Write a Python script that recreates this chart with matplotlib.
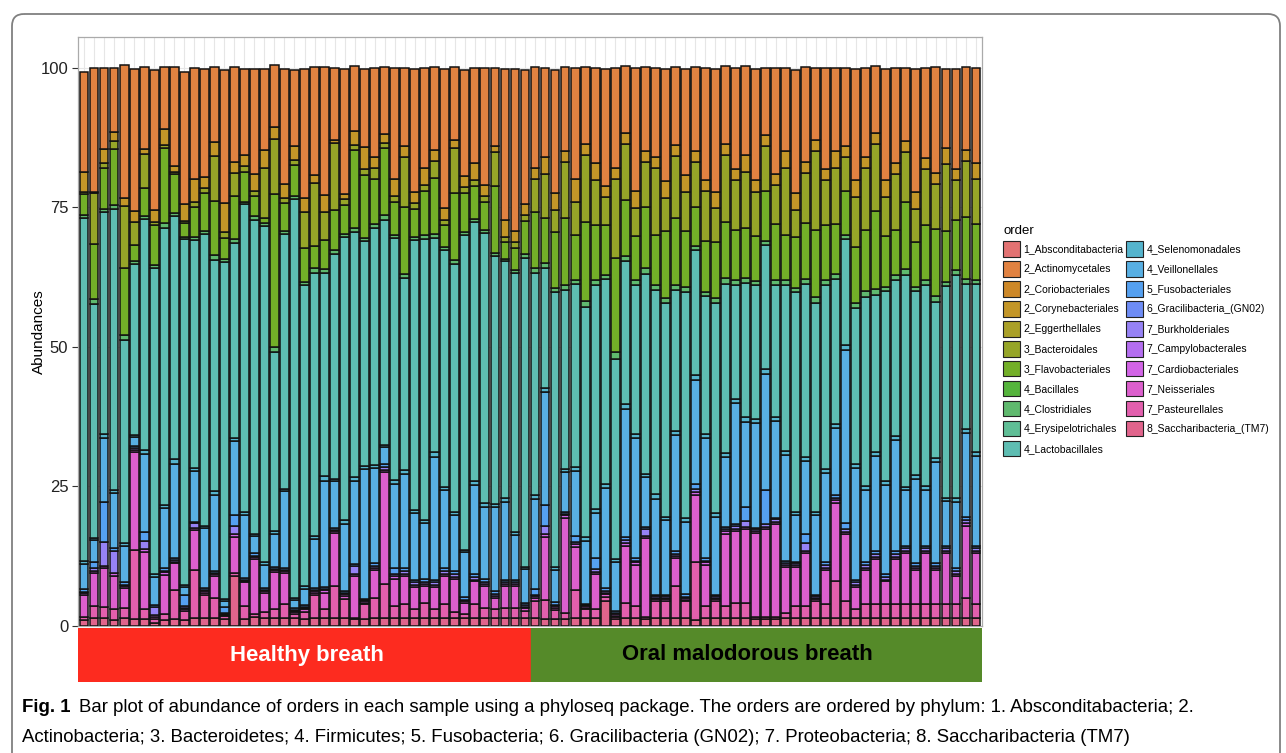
import numpy as np
import matplotlib
matplotlib.use("Agg")
import matplotlib.pyplot as plt
from matplotlib.patches import Patch, FancyBboxPatch

plt.rcParams['font.family'] = ['Liberation Sans', 'DejaVu Sans']

# legend order (ggplot puts the first level on top of each bar)
orders = ['1_Absconditabacteria', '2_Actinomycetales', '2_Coriobacteriales',
          '2_Corynebacteriales', '2_Eggerthellales', '3_Bacteroidales',
          '3_Flavobacteriales', '4_Bacillales', '4_Clostridiales',
          '4_Erysipelotrichales', '4_Lactobacillales', '4_Selenomonadales',
          '4_Veillonellales', '5_Fusobacteriales', '6_Gracilibacteria_(GN02)',
          '7_Burkholderiales', '7_Campylobacterales', '7_Cardiobacteriales',
          '7_Neisseriales', '7_Pasteurellales', '8_Saccharibacteria_(TM7)']

# colours as they appear in the legend keys
order_colors = ['#e27272', '#e18241', '#cd8828', '#c39628', '#aaa028', '#96a528',
                '#73af28', '#55b43c', '#5fb96e', '#5fbe96', '#5ebdb2', '#55b4cd',
                '#58afe3', '#55a0f0', '#6e8cf5', '#9682f5', '#b46ef0', '#d264e6',
                '#dc5fcd', '#e25fad', '#e1648c']

groups = ['Healthy breath', 'Oral malodorous breath']
n_healthy = 45
n_malodor = 45

# abundances (%) per sample, first 45 healthy then 45 malodorous
actinomycetales = [18, 22.2, 14.5, 11.5, 23.7, 25.4, 14.7, 25, 11.1, 17.7, 23.7, 19.9, 19.3, 13.5, 23.7, 17, 15.3, 18.8, 14.5, 11.1, 20.5, 13.5, 23, 19.3, 23, 12.9, 22.4, 11.6, 13.9, 16, 12, 20, 14, 22, 18, 15, 25, 13, 19, 17, 21, 14, 27, 29, 24,
                   18, 16, 22, 15, 20, 13.8, 17, 21, 18, 12, 22, 15, 16, 20, 14, 19, 15, 20, 22, 14, 18, 16, 20, 12, 19, 15, 22, 17, 13, 18, 15, 14, 20, 16, 12, 20, 17, 13, 22, 16, 19, 14, 18, 15, 17]
corynebacteriales = [3.5, 0.3, 2.4, 1.5, 1.5, 2, 1, 2.2, 3, 1, 3, 4, 2, 2.5, 5.3, 2, 2, 3, 3.2, 2, 2.5, 2.5, 2.5, 1.5, 3, 0.5, 1, 2.5, 4, 2, 1.5, 3, 2, 2, 3, 2, 2, 1.5, 2, 3, 2, 1, 3, 2, 2,
                     2, 3, 3, 2, 4, 2, 3, 2, 2, 2, 3, 2, 2, 3, 2, 3, 2, 2, 3, 2, 2, 3, 2, 2, 2, 3, 3, 2, 2, 2, 3, 2, 3, 2, 2, 3, 2, 2, 3, 2, 2, 3, 2, 2, 3]
bacteroidales = [0.5, 9, 1, 1.5, 11, 4, 6, 0.5, 0.5, 0.5, 0.5, 1, 1, 8, 1, 4, 1, 1, 8.9, 10, 1, 1, 6.5, 11.2, 5, 12, 1, 1, 1, 2, 1, 1, 9, 1, 1, 3, 1, 8, 1, 1, 1, 6, 1, 1, 1,
                 6, 8, 4, 10, 6, 12, 8, 5, 14, 10, 5, 8, 12, 6, 11, 7, 8, 9, 6, 12, 9, 10, 8, 8, 7, 12, 5, 9, 14, 8, 10, 6, 9, 11, 12, 7, 10, 9, 6, 10, 8, 12, 7, 10, 8]
flavobacteriales = [3.7, 10, 7.3, 10, 12, 3, 5, 7.2, 13.5, 6.9, 2.4, 5.3, 6.7, 9.8, 3.8, 7.8, 5.4, 3.6, 1, 27.4, 5, 5.5, 6, 4, 5.3, 7.2, 5.2, 13.9, 11.3, 8, 12, 6, 12, 5, 8, 10, 4, 12, 7, 6, 5, 12, 3, 4, 6,
                    10, 8, 10, 12, 8, 14, 10, 9, 17, 10, 8, 11, 9, 12, 12, 10, 7, 9, 10, 10, 9, 9, 8, 9, 10, 8, 9, 10, 12, 10, 9, 8, 10, 11, 14, 9, 8, 12, 8, 10, 12, 9, 9, 11, 10]
clostridiales = [0.5, 0.8, 0.6, 0.7, 0.9, 0.4, 0.6, 0.5, 0.8, 0.6, 0.4, 0.5, 0.6, 0.8, 0.5, 0.7, 0.5, 0.6, 0.4, 0.9, 0.5, 0.6, 0.7, 0.8, 0.6, 0.7, 0.5, 0.8, 0.6, 0.7, 0.8, 0.5, 0.7, 0.5, 0.6, 0.7, 0.5, 0.8, 0.6, 0.5, 0.6, 0.7, 0.4, 0.5, 0.6,
                 0.9, 0.8, 0.7, 1.0, 0.8, 1.1, 0.9, 0.7, 1.2, 0.9, 0.8, 1.0, 0.9, 0.8, 1.0, 0.9, 0.7, 0.8, 0.9, 1.0, 0.8, 0.9, 0.8, 0.7, 0.9, 1.0, 0.8, 0.9, 1.1, 0.8, 0.9, 0.7, 0.8, 1.0, 1.1, 0.8, 0.9, 1.0, 0.7, 0.9, 1.0, 0.8, 0.9, 1.0, 0.8]
lactobacillales = [61.4, 41.9, 39.7, 50.4, 36.4, 30.7, 41.4, 54.9, 49.6, 43.5, 62, 40.9, 52.2, 41.4, 60.4, 34.9, 55.1, 56.3, 60.2, 31.9, 45.6, 71.4, 53.9, 47.2, 36.5, 40.2, 50.8, 43.8, 40.2, 42.4, 40.4, 43.4, 34.4, 48.4, 50.4, 38.4, 42.4, 44.4, 56.4, 46.4, 48.4, 44.4, 42.4, 46.4, 55.4,
                   39.7, 21.6, 49.3, 31.9, 32.7, 41.2, 40.1, 36.6, 35.8, 25.6, 26.7, 35.9, 36.5, 38.3, 25.1, 40.6, 22.5, 24.7, 37.7, 30.3, 20.4, 24, 24, 22.3, 23.7, 29.7, 39.4, 30.9, 37.4, 33, 26, 19, 28, 34, 28, 34, 28, 38, 33, 36, 28, 38, 40, 26, 30]
selenomonadales = [0.6, 0.4, 0.8, 0.5, 0.6, 0.4, 0.7, 0.5, 0.6, 0.8, 0.3, 0.6, 0.5, 0.7, 0.4, 0.6, 0.5, 0.4, 0.6, 0.7, 0.5, 0.3, 0.4, 0.6, 0.8, 0.5, 0.6, 0.7, 0.5, 0.6, 0.4, 0.7, 0.6, 0.5, 0.6, 0.8, 0.5, 0.6, 0.4, 0.7, 0.6, 0.5, 0.6, 0.5, 0.4,
                   0.8, 0.7, 0.5, 0.6, 0.8, 0.7, 0.6, 0.8, 0.5, 0.9, 0.7, 0.6, 0.8, 0.6, 0.7, 0.6, 0.9, 0.7, 0.6, 0.8, 0.7, 0.9, 0.6, 0.8, 0.7, 0.6, 0.5, 0.8, 0.6, 0.7, 0.6, 0.9, 0.7, 0.6, 0.8, 0.7, 0.6, 0.5, 0.7, 0.6, 0.8, 0.5, 0.6, 0.7, 0.8]
veillonellales = [4.5, 4, 11.4, 9.8, 6.5, 1.6, 14, 5.1, 10.7, 17, 1.5, 9, 10.7, 13.7, 1, 13.2, 11.3, 3, 4.1, 5.9, 13.7, 1.5, 3, 8.7, 19.1, 8.4, 12.1, 14.9, 23.3, 17, 3, 15, 17, 12, 10, 22, 14, 10, 8, 16, 13, 15, 14, 8, 6,
                  16.1, 20.3, 5.7, 7.2, 11.6, 11.3, 8.1, 17.9, 8.9, 23, 21.5, 8.9, 17.2, 13.4, 20.9, 13, 18.5, 21.5, 14, 12.5, 21.8, 15.2, 18.8, 20.9, 17.3, 19.1, 8.4, 13.1, 14.3, 16, 12, 31, 20, 13, 17, 16, 20, 10, 15, 10, 18, 8, 12, 15, 16]
fusobacteriales = [0.5, 1, 7.2, 0.5, 0.5, 0.3, 1.5, 0.3, 0.5, 0.3, 2, 0.3, 0.3, 0.3, 1, 2, 0.3, 0.5, 0.3, 0.3, 0.3, 0.3, 0.3, 0.3, 0.3, 0.3, 0.3, 0.3, 0.3, 0.5, 0.5, 1, 0.5, 0.5, 0.5, 0.5, 0.5, 0.5, 0.5, 0.5, 0.5, 0.5, 0.5, 0.5, 0.5,
                   1, 3.6, 0.5, 0.3, 1, 0.3, 2, 0.5, 0.3, 0.5, 0.5, 0.3, 0.3, 0.3, 0.5, 0.5, 1, 0.5, 0.3, 0.3, 0.3, 2.5, 0.3, 6, 0.3, 0.3, 0.3, 1.5, 0.3, 0.5, 0.5, 1, 0.5, 0.5, 0.5, 0.5, 0.5, 0.5, 0.5, 0.5, 0.5, 0.5, 0.5, 0.5, 0.5]
burkholderiales = [0.2, 0.5, 4.3, 4, 0.2, 0.3, 1.5, 1.5, 0.3, 0.3, 0.2, 0.8, 0.2, 0.2, 0.2, 1.5, 0.2, 0.2, 0.2, 0.2, 0.3, 0.2, 0.2, 0.2, 0.2, 0.2, 0.2, 1.5, 0.2, 0.5, 0.5, 0.5, 0.5, 0.5, 0.3, 0.5, 0.5, 0.5, 0.3, 0.5, 0.3, 0.5, 0.3, 0.3, 0.3,
                   0.2, 1.5, 0.2, 0.2, 0.5, 0.2, 0.5, 0.3, 0.2, 0.5, 0.3, 1.2, 0.2, 0.2, 0.4, 0.2, 0.5, 0.3, 0.2, 0.4, 0.5, 1, 0.3, 0.5, 0.5, 0.3, 0.3, 1.5, 0.2, 0.5, 0.5, 0.5, 0.5, 0.5, 0.5, 0.5, 0.5, 0.5, 0.5, 0.5, 0.5, 0.5, 0.5, 0.5, 0.5]
cardiobacteriales = [0.3, 0.4, 0.3, 0.5, 0.3, 0.4, 0.5, 0.2, 0.4, 0.3, 0.2, 0.4, 0.3, 0.3, 0.2, 0.4, 0.3, 0.4, 0.3, 0.4, 0.3, 0.2, 0.2, 0.3, 0.4, 0.3, 0.3, 0.4, 0.2, 0.3, 0.5, 0.4, 0.3, 0.3, 0.4, 0.3, 0.4, 0.3, 0.2, 0.3, 0.4, 0.3, 0.3, 0.3, 0.2,
                     0.4, 0.5, 0.3, 0.5, 0.4, 0.3, 0.4, 0.3, 0.3, 0.5, 0.4, 0.5, 0.3, 0.3, 0.4, 0.3, 0.5, 0.4, 0.3, 0.5, 0.4, 0.5, 0.4, 0.5, 0.4, 0.4, 0.3, 0.4, 0.3, 0.4, 0.5, 0.4, 0.3, 0.4, 0.4, 0.3, 0.4, 0.4, 0.3, 0.4, 0.3, 0.4, 0.3, 0.5, 0.4]
neisseriales = [4.0, 6, 7, 6, 3.5, 17.5, 10.3, 0.5, 7, 4.7, 0.5, 7.1, 0.5, 4, 0.2, 6.5, 4.3, 9.9, 3.5, 6.6, 5.5, 0.3, 0.5, 0.5, 3, 9.6, 0.5, 7.4, 0.3, 5, 20, 5, 5, 4, 3, 4, 5, 6, 2, 4, 4, 2, 4, 4, 0.5,
                0.5, 11.4, 0.5, 17.1, 7.7, 0.2, 6.3, 0.5, 0.2, 10.3, 7.5, 14, 0.3, 0.3, 5, 0.3, 12, 7.5, 0.3, 13, 12.9, 13.2, 14.9, 15.6, 16.5, 8.3, 7.1, 9.5, 0.3, 6, 14, 12, 4, 6, 8, 4, 8, 9, 6, 9, 6, 9, 5, 13, 9]
pasteurellales = [0.6, 2, 2, 2, 1.8, 12.5, 1.8, 0.6, 1.2, 5.3, 1.6, 8.6, 4, 3.5, 0.6, 0.5, 2.2, 0.5, 1, 1.5, 2.5, 0.7, 1.2, 4, 1.5, 5.6, 3.4, 0.3, 2.7, 3.5, 6, 2, 2.5, 1.5, 2.7, 1.5, 2.5, 1, 0.7, 2.5, 1.7, 1.5, 1.7, 1.7, 1.2,
                  3, 3.3, 1.5, 1, 5, 1.5, 1.5, 0.7, 0.3, 2.6, 2, 0.5, 3, 3, 5.6, 3, 10.5, 2, 3, 2, 2.6, 2.6, 0.5, 0.5, 0.5, 0.8, 2, 2, 3, 2.5, 6.5, 3, 1.5, 2.5, 2.5, 2.5, 2.5, 2.5, 2.5, 2.5, 2.5, 2.5, 2.5, 3.5, 2.5]
saccharibacteria = [1.0, 1.5, 1.4, 1, 1.5, 1.2, 1.2, 0.6, 1, 1.2, 1, 1.5, 1.5, 1.5, 1.2, 9, 1.3, 1.6, 1.5, 1.5, 1.5, 1.5, 1.3, 1.5, 1.5, 1.5, 1.5, 1.2, 1.2, 1.5, 1.5, 1.5, 1.5, 1.5, 1.5, 1.5, 1.5, 1.5, 1.5, 1.5, 1.5, 1.5, 1.5, 1.5, 1.5,
                    1.5, 1.3, 1.3, 1.3, 1.5, 1.5, 1.5, 4.5, 1.3, 1.5, 1.5, 1.2, 1.5, 1.5, 1.5, 1.4, 1, 1.5, 1.5, 1.5, 1.5, 1.5, 1.2, 1.2, 1.2, 1.5, 1.5, 1.5, 1.5, 1.5, 1.5, 1.5, 1.5, 1.5, 1.5, 1.5, 1.5, 1.5, 1.5, 1.5, 1.5, 1.5, 1.5, 1.5, 1.5]

abund = {
    '2_Actinomycetales': actinomycetales,
    '2_Corynebacteriales': corynebacteriales,
    '3_Bacteroidales': bacteroidales,
    '3_Flavobacteriales': flavobacteriales,
    '4_Clostridiales': clostridiales,
    '4_Lactobacillales': lactobacillales,
    '4_Selenomonadales': selenomonadales,
    '4_Veillonellales': veillonellales,
    '5_Fusobacteriales': fusobacteriales,
    '7_Burkholderiales': burkholderiales,
    '7_Cardiobacteriales': cardiobacteriales,
    '7_Neisseriales': neisseriales,
    '7_Pasteurellales': pasteurellales,
    '8_Saccharibacteria_(TM7)': saccharibacteria,
}
colors = dict(zip(orders, order_colors))

W, H = 1286, 753
fig = plt.figure(figsize=(W / 100, H / 100), dpi=100)

# outer frame of the figure panel
bg = fig.add_axes([0, 0, 1, 1], zorder=-5)
bg.set_xlim(0, W)
bg.set_ylim(H, 0)
bg.axis('off')
bg.add_patch(FancyBboxPatch((12, 14), 1268, 800, boxstyle='round,pad=0,rounding_size=12',
                            fill=False, ec='#808080', lw=1.3))

ax = fig.add_axes([78 / W, 1 - 626 / H, 904 / W, 589 / H])
x = np.arange(n_healthy + n_malodor)
bottom = np.zeros(len(x))
for o in orders[::-1]:
    if o not in abund:
        continue
    vals = np.array(abund[o])
    ax.bar(x, vals, bottom=bottom, width=0.88, color=colors[o],
           edgecolor='#111111', linewidth=1.1, zorder=3)
    bottom += vals

ax.set_xlim(-0.6, len(x) - 0.4)
ax.set_ylim(0, 105.5)
ax.set_xticks(x)
ax.set_xticklabels([])
ax.tick_params(axis='x', length=0)
ax.set_yticks([0, 25, 50, 75, 100])
ax.tick_params(axis='y', length=4, color='#333333', labelsize=12, labelcolor='#222222', pad=3)
ax.grid(True, color='#e6e6e6', lw=0.8, zorder=0)
for s in ax.spines.values():
    s.set_color('#aaaaaa')
    s.set_linewidth(0.9)
ax.set_ylabel('Abundances', fontsize=11)
ax.yaxis.set_label_coords(-0.035, 0.5)

# group strip under the bars
strip = fig.add_axes([78 / W, 1 - 682 / H, 904 / W, 54 / H])
strip.set_xlim(0, 904)
strip.set_ylim(0, 1)
strip.axis('off')
strip.axvspan(0, 453, color='#fd2b1f')
strip.axvspan(453, 904, color='#558a29')
strip.text(229, 0.5, groups[0], color='white', fontsize=15.9, fontweight='bold', ha='center', va='center')
strip.text(669, 0.5, groups[1], color='black', fontsize=15.9, fontweight='bold', ha='center', va='center')

handles = [Patch(facecolor=colors[o], edgecolor='#222222', linewidth=0.8) for o in orders]
fig.legend(handles, orders, loc='upper left', bbox_to_anchor=(1003 / W, 1 - 225 / H),
           ncol=2, title='order', frameon=False, fontsize=7.5, title_fontsize=9.5,
           handlelength=1.6, handleheight=1.92, labelspacing=0.42, columnspacing=0.3,
           handletextpad=0.35, alignment='left', borderaxespad=0, borderpad=0)

cap_font = ['Liberation Sans Narrow', 'Liberation Sans', 'DejaVu Sans']
fig.text(22 / W, 1 - 712 / H, 'Fig. 1', fontsize=13.4, fontweight='bold', family=cap_font, va='baseline')
fig.text(79 / W, 1 - 712 / H, 'Bar plot of abundance of orders in each sample using a phyloseq package. '
         'The orders are ordered by phylum: 1. Absconditabacteria; 2.',
         fontsize=13.4, family=cap_font, va='baseline')
fig.text(22 / W, 1 - 742 / H, 'Actinobacteria; 3. Bacteroidetes; 4. Firmicutes; 5. Fusobacteria; '
         '6. Gracilibacteria (GN02); 7. Proteobacteria; 8. Saccharibacteria (TM7)',
         fontsize=13.4, family=cap_font, va='baseline')

fig.savefig('out.png', dpi=100)
